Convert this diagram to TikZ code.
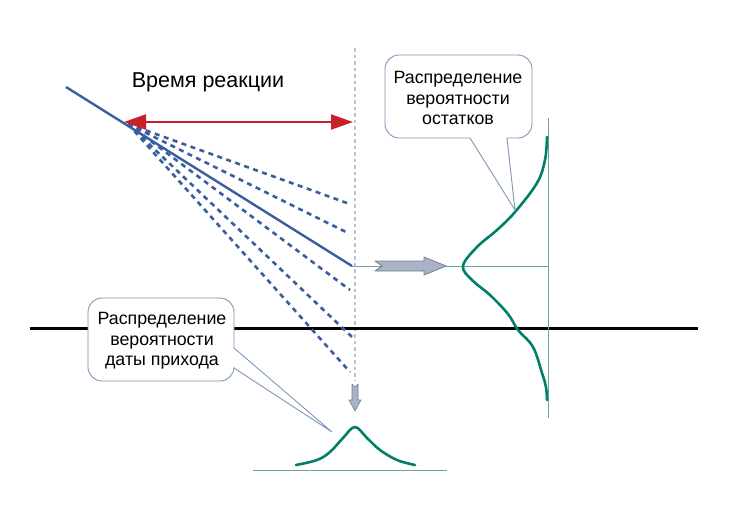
\documentclass[tikz,border=0pt]{standalone}
\usepackage{fontspec}
\setmainfont{Liberation Sans}
\usetikzlibrary{arrows.meta}
\definecolor{lineblue}{HTML}{3B5E9E}
\definecolor{redarr}{HTML}{C8202A}
\definecolor{teal}{HTML}{00806B}
\definecolor{thingreen}{HTML}{6FA597}
\definecolor{calloutbd}{HTML}{7F96B8}
\definecolor{dotgray}{HTML}{B8C2D8}
\definecolor{blockfill}{HTML}{A9B3C4}
\definecolor{blockbd}{HTML}{6F7F99}
\tikzset{
  solidline/.style={lineblue, line width=2.4pt},
  dashline/.style={lineblue, line width=2.6pt, dash pattern=on 5pt off 4.5pt},
  thinline/.style={thingreen, line width=1pt},
  curve/.style={teal, line width=2.6pt, line join=round, line cap=round},
  callout/.style={draw=calloutbd, line width=0.9pt, fill=white},
  ctext/.style={font=\fontsize{17.8}{20.5}\selectfont, align=center, text=black},
  blockarrow/.style={fill=blockfill, draw=blockbd, line width=0.8pt, line join=round},
}
\begin{document}
\begin{tikzpicture}[x=1pt,y=-1pt]
\useasboundingbox (0,0) rectangle (750,531);
\fill[white] (0,0) rectangle (750,531);

% coordinates
\coordinate (s0) at (66,87);
\coordinate (s1) at (352,266);
\coordinate (o) at (128,124);
\coordinate (d1) at (347,203);
\coordinate (d2) at (348,233);
\coordinate (d3) at (350,290);
\coordinate (d4) at (352,337);
\coordinate (d5) at (350,372);

% dotted vertical line
\coordinate (vt) at (355,48);
\coordinate (vb) at (355,380);
\draw[dotgray, line width=2.6pt, dash pattern=on 3.5pt off 3pt] (vt) -- (vb);

% black horizontal line
\coordinate (hl) at (30,328);
\coordinate (hr) at (698,328);
\draw[black, line width=3pt] (hl) -- (hr);

% dashed fan
\foreach \d in {d1,d2,d3,d4,d5} \draw[dashline] (o) -- (\d);
% solid line
\draw[solidline] (s0) -- (s1);

% red double arrow
\coordinate (ra) at (124,122);
\coordinate (rb) at (353,122);
\draw[redarr, line width=2pt, {Triangle[length=22pt,width=15pt]}-{Triangle[length=22pt,width=15pt]}] (ra) -- (rb);

% title
\node[font=\fontsize{21.5}{24}\selectfont] (title) at (208,82) {Время реакции};

% thin green lines
\coordinate (gv1) at (548,118);
\coordinate (gv2) at (548,418);
\coordinate (gh) at (548,266);
\draw[thinline] (gv1) -- (gv2);
\draw[thinline] (s1) -- (gh);

% block arrow right
\draw[blockarrow] (375,261) -- (424,261) -- (424,257) -- (446,266) -- (424,275) -- (424,271) -- (375,271) -- (382,266) -- cycle;

% small down arrow
\draw[blockarrow, line width=0.6pt] (352,384) -- (355,387) -- (358,384) -- (358,400) -- (361,400) -- (355,411) -- (349,400) -- (352,400) -- cycle;

% right distribution curve
\draw[curve] plot[smooth, tension=0.6] coordinates {(547,137) (545,160) (537,183) (515,212) (497,230) (477,247) (463,266) (472,280) (490,295) (508,314) (518,330) (533,347) (542,373) (546,387) (547,400)};

% bottom distribution
\coordinate (bl) at (253,470);
\coordinate (br) at (447,470);
\draw[thinline] (bl) -- (br);
\draw[curve] plot[smooth, tension=0.6] coordinates {(296,465) (317,460) (330,452) (343,438) (355,427) (367,438) (380,450) (397,460) (415,465)};

% top-right callout
\draw[callout] (400,55) [rounded corners=14pt] -- (532,55) -- (532,138) [sharp corners] -- (507,138) -- (515,210) -- (470,138) [rounded corners=14pt] -- (385,138) -- (385,55) -- (400,55);
\node[ctext] (calloutR) at (458,98) {Распределение\\вероятности\\остатков};

% bottom-left callout
\draw[callout] (100,298) [rounded corners=14pt] -- (234,298) [sharp corners] -- (234,348) -- (332,432) -- (234,368) [rounded corners=14pt] -- (234,381) -- (88,381) -- (88,298) -- (100,298);
\node[ctext] (calloutL) at (162,341) {Распределение\\вероятности\\даты прихода};
\end{tikzpicture}
\end{document}
